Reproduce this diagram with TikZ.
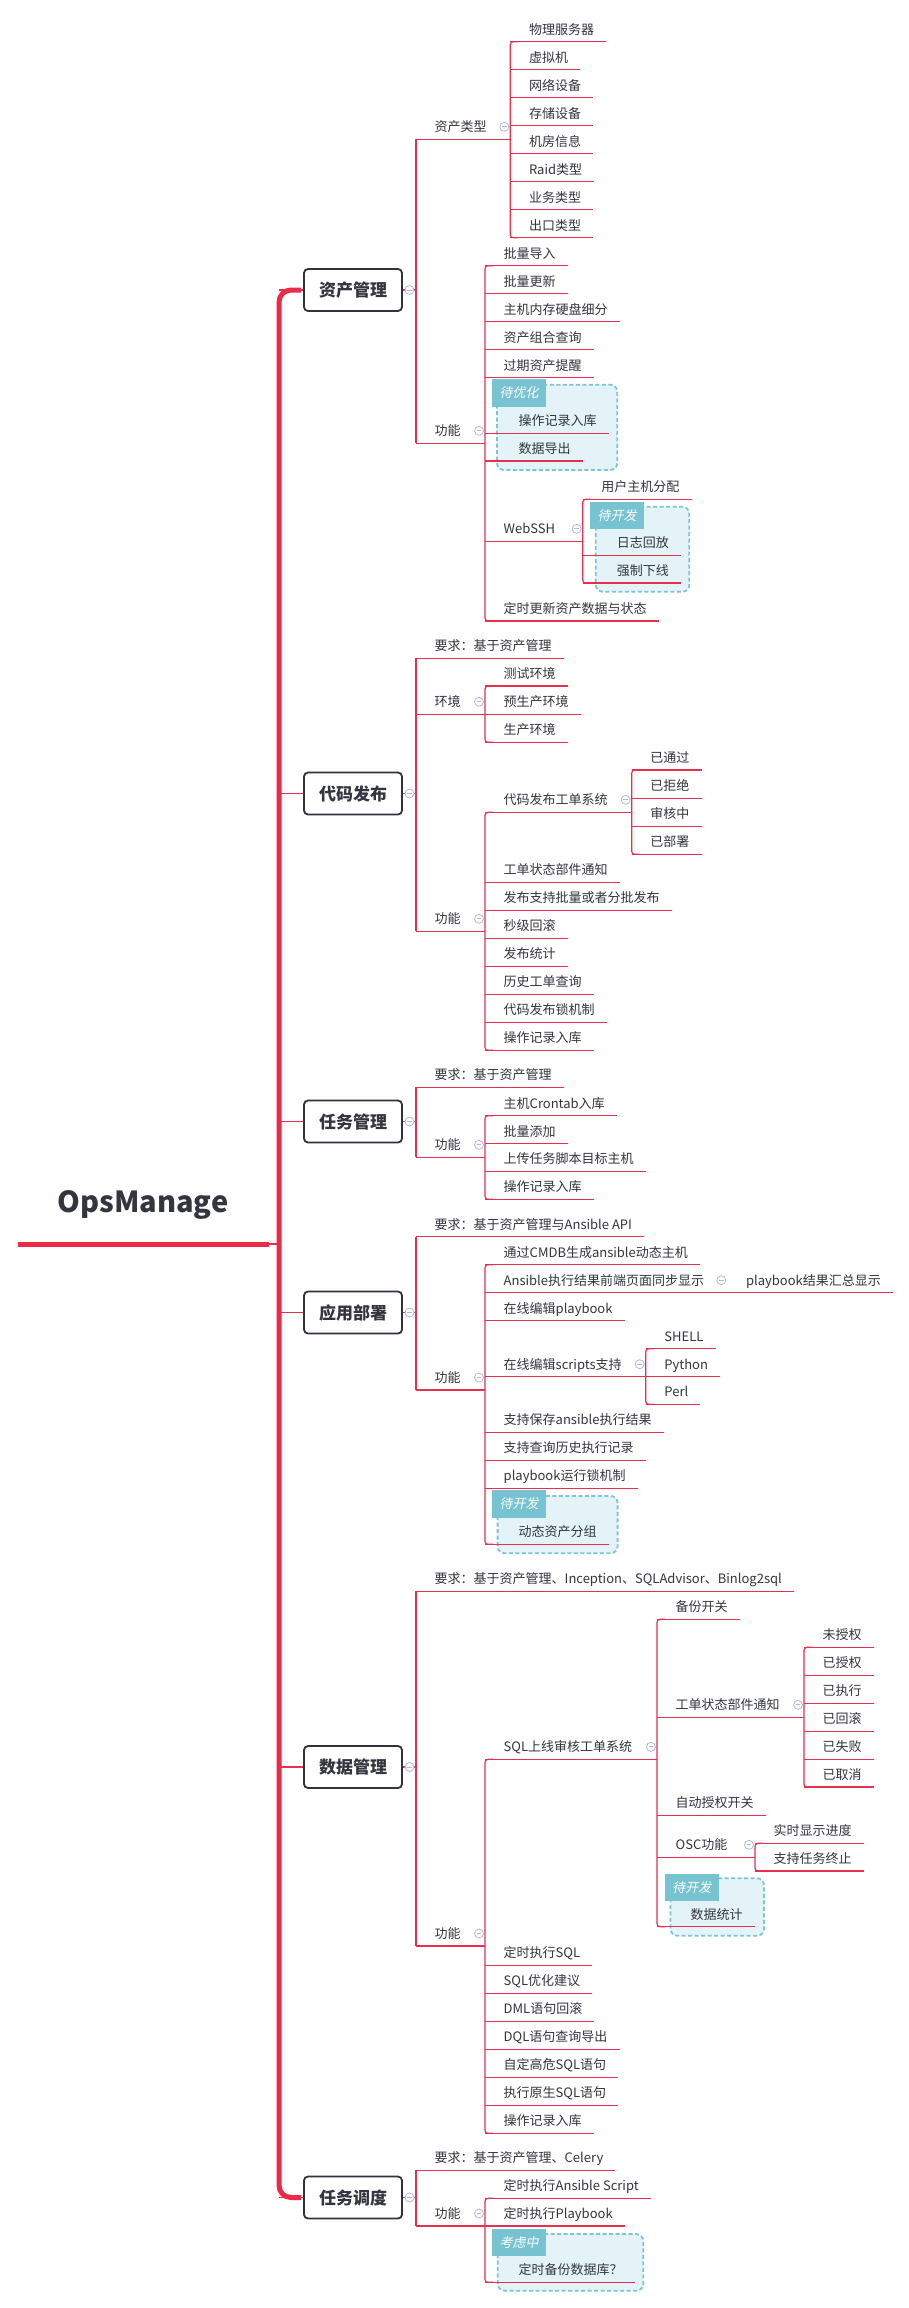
\documentclass[tikz,border=0pt]{standalone}
\usepackage{fontspec}
\setmainfont{Noto Sans CJK SC}
\newfontfamily\tagfont[FakeSlant=0.2]{Noto Sans CJK SC}
\definecolor{lred}{HTML}{E6304D}
\definecolor{tred}{HTML}{EC2A47}
\definecolor{bord}{HTML}{30323F}
\definecolor{txt}{HTML}{33353F}
\definecolor{tagf}{HTML}{78C3D2}
\definecolor{dashc}{HTML}{7BC5D5}
\definecolor{boxf}{HTML}{E3F3F7}
\definecolor{circ}{HTML}{AEBBE0}
\newcommand\fs{\fontsize{13pt}{13pt}\selectfont}
\tikzset{
  ln/.style={draw=lred, line width=1.2pt},
  trunk/.style={draw=tred, line width=5pt},
  topic/.style={anchor=south west, inner xsep=12pt, inner ysep=4.3pt, text height=9pt, text depth=3pt, font=\fs, text=txt},
  mainbox/.style={draw=bord, line width=1.8pt, rounded corners=4pt, minimum width=98pt, minimum height=42pt, font=\bfseries\fontsize{17pt}{17pt}\selectfont, text=txt, inner sep=0pt, fill=white},
  fold/.style={circle, draw=circ, fill=white, line width=0.8pt, minimum size=9pt, inner sep=0pt},
  grp/.style={draw=dashc, fill=boxf, line width=1.8pt, dash pattern=on 4pt off 2.5pt, rounded corners=7pt},
  tagbox/.style={fill=tagf, text=white, font=\tagfont\fontsize{13pt}{13pt}\selectfont, anchor=north west, minimum width=54pt, minimum height=27.5pt, inner sep=0pt}
}
% #1 offset, #2 name, #3 bracket x, #4 underline y, #5 text
\newcommand\leaf[5][18.5]{%
  \node[topic] (#2) at (#3+#1-12,#4) {#5};
  \coordinate (#2-b) at (#3,#4);
  \draw[ln] (#2-b) -- (#2.south east);}
% #1 name, #2 bracket x, #3 underline y, #4 child bracket x, #5 text
\newcommand\ptopic[5]{%
  \node[topic] (#1) at (#2+6.5,#3) {#5};
  \coordinate (#1-b) at (#2,#3);
  \coordinate (#1-c) at (#4,#3);
  \draw[ln] (#1-b) -- (#1-c);
  \node[fold] (#1-f) at (#4-6,#3-12.5) {};
  \draw[circ, line width=0.8pt] ([xshift=-2.3pt]#1-f.center) -- ([xshift=2.3pt]#1-f.center);}
\newcommand\brk[3]{\draw[ln, rounded corners=3pt] (#1+8,#2) -- (#1,#2) -- (#1,#3) -- (#1+8,#3);}
\newcommand\brkq[3]{\draw[ln] (#1,#2) -- (#1,#3);}
\newcommand\grpbox[8]{%
  \draw[grp] (#2,#3) rectangle (#4,#5);
  \node[tagbox] (#1) at (#6,#7) {#8};}
% #1 box name, #2 center y
\newcommand\mainlink[2]{%
  \coordinate (#1-t) at (279,#2);
  \coordinate (#1-r) at (416,#2);
  \draw[ln] (#1-t) -- (#1.west);
  \draw[ln] (#1.east) -- (#1-r);
  \node[fold] (#1-f) at (409.5,#2) {};
  \draw[circ, line width=0.8pt] ([xshift=-2.3pt]#1-f.center) -- ([xshift=2.3pt]#1-f.center);}
\begin{document}
\begin{tikzpicture}[x=1pt,y=-1pt]
\useasboundingbox (0,0) rectangle (908,2308);
\fill[white] (0,0) rectangle (908,2308);

% ---------- boundary groups ----------
\grpbox{g1}{497}{384.7}{617.3}{470}{492}{379}{待优化}
\grpbox{g2}{595.7}{506.7}{689.3}{591.7}{590}{501.3}{待开发}
\grpbox{g3}{497.6}{1496}{617.6}{1553.3}{492}{1490}{待开发}
\grpbox{g4}{670.5}{1878.3}{764}{1935.7}{664.6}{1873.3}{待开发}
\grpbox{g5}{497.7}{2234}{643.3}{2290.7}{492}{2228.3}{考虑中}

% ---------- root and trunk ----------
\node[font=\bfseries\fontsize{29pt}{29pt}\selectfont, text=txt] (root) at (143,1205) {OpsManage};
\coordinate (rootL) at (18,1244);
\coordinate (rootR) at (269,1244);
\coordinate (trunkM) at (279,1244);
\draw[trunk] (rootL) -- (rootR);
\draw[ln] (rootR) -- (trunkM);
\draw[trunk, rounded corners=12pt] (301,290) -- (279,290) -- (279,2197.5) -- (301,2197.5);

% ---------- main topics ----------
\node[mainbox] (m1) at (353,290) {资产管理};
\node[mainbox] (m2) at (353,793.5) {代码发布};
\node[mainbox] (m3) at (353,1121.5) {任务管理};
\node[mainbox] (m4) at (353,1312.5) {应用部署};
\node[mainbox] (m5) at (353,1767) {数据管理};
\node[mainbox] (m6) at (353,2197.5) {任务调度};
\mainlink{m1}{290}
\mainlink{m2}{793.5}
\mainlink{m3}{1121.5}
\mainlink{m4}{1312.5}
\mainlink{m5}{1767}
\mainlink{m6}{2197.5}

% ---------- 资产管理 ----------
\brkq{416}{139.3}{443.3}
\ptopic{a1}{416}{139.3}{510.3}{资产类型}
\brk{510.3}{41.7}{237.7}
\leaf{a11}{510.3}{41.7}{物理服务器}
\leaf{a12}{510.3}{69.7}{虚拟机}
\leaf{a13}{510.3}{97.7}{网络设备}
\leaf{a14}{510.3}{125.7}{存储设备}
\leaf{a15}{510.3}{153.7}{机房信息}
\leaf{a16}{510.3}{181.7}{Raid类型}
\leaf{a17}{510.3}{209.7}{业务类型}
\leaf{a18}{510.3}{237.7}{出口类型}
\ptopic{a2}{416}{443.3}{485}{功能}
\brk{485}{265.7}{621}
\leaf{a21}{485}{265.7}{批量导入}
\leaf{a22}{485}{293.7}{批量更新}
\leaf{a23}{485}{321.7}{主机内存硬盘细分}
\leaf{a24}{485}{349.7}{资产组合查询}
\leaf{a25}{485}{377.7}{过期资产提醒}
\leaf[33.5]{a26}{485}{433.3}{操作记录入库}
\leaf[33.5]{a27}{485}{461}{数据导出}
\ptopic{a28}{485}{541.3}{582.7}{WebSSH}
\brk{582.7}{499.3}{583}
\leaf{a281}{582.7}{499.3}{用户主机分配}
\leaf[34]{a282}{582.7}{555.3}{日志回放}
\leaf[34]{a283}{582.7}{583}{强制下线}
\leaf{a29}{485}{621}{定时更新资产数据与状态}

% ---------- 代码发布 ----------
\brkq{416}{658.3}{931.3}
\leaf{b1}{416}{658.3}{要求：基于资产管理}
\ptopic{b2}{416}{714.3}{485}{环境}
\brk{485}{686}{742.3}
\leaf{b21}{485}{686}{测试环境}
\leaf{b22}{485}{714.3}{预生产环境}
\leaf{b23}{485}{742.3}{生产环境}
\ptopic{b3}{416}{931.3}{485}{功能}
\brk{485}{812.3}{1050.3}
\ptopic{b31}{485}{812.3}{631.7}{代码发布工单系统}
\brk{631.7}{770}{854.3}
\leaf{b311}{631.7}{770}{已通过}
\leaf{b312}{631.7}{798.3}{已拒绝}
\leaf{b313}{631.7}{826.3}{审核中}
\leaf{b314}{631.7}{854.3}{已部署}
\leaf{b32}{485}{882.3}{工单状态部件通知}
\leaf{b33}{485}{910.3}{发布支持批量或者分批发布}
\leaf{b34}{485}{938.3}{秒级回滚}
\leaf{b35}{485}{966.3}{发布统计}
\leaf{b36}{485}{994.3}{历史工单查询}
\leaf{b37}{485}{1022.3}{代码发布锁机制}
\leaf{b38}{485}{1050.3}{操作记录入库}

% ---------- 任务管理 ----------
\brkq{416}{1087.3}{1157.3}
\leaf{c1}{416}{1087.3}{要求：基于资产管理}
\ptopic{c2}{416}{1157.3}{485}{功能}
\brk{485}{1115.7}{1199.3}
\leaf{c21}{485}{1115.7}{主机Crontab入库}
\leaf{c22}{485}{1143.7}{批量添加}
\leaf{c23}{485}{1171.3}{上传任务脚本目标主机}
\leaf{c24}{485}{1199.3}{操作记录入库}

% ---------- 应用部署 ----------
\brkq{416}{1236.7}{1390}
\leaf{d1}{416}{1236.7}{要求：基于资产管理与Ansible API}
\ptopic{d2}{416}{1390}{485}{功能}
\brk{485}{1264.7}{1544.3}
\leaf{d21}{485}{1264.7}{通过CMDB生成ansible动态主机}
\ptopic{d22}{485}{1292.7}{727.3}{Ansible执行结果前端页面同步显示}
\leaf{d221}{727.3}{1292.7}{playbook结果汇总显示}
\leaf{d23}{485}{1320.7}{在线编辑playbook}
\ptopic{d24}{485}{1376.7}{645.7}{在线编辑scripts支持}
\brk{645.7}{1348.7}{1404.3}
\leaf{d241}{645.7}{1348.7}{SHELL}
\leaf{d242}{645.7}{1376.7}{Python}
\leaf{d243}{645.7}{1404.3}{Perl}
\leaf{d25}{485}{1432.3}{支持保存ansible执行结果}
\leaf{d26}{485}{1460.3}{支持查询历史执行记录}
\leaf{d27}{485}{1488.3}{playbook运行锁机制}
\leaf[33.5]{d28}{485}{1544.3}{动态资产分组}

% ---------- 数据管理 ----------
\brkq{416}{1591.3}{1946}
\leaf{e1}{416}{1591.3}{要求：基于资产管理、Inception、SQLAdvisor、Binlog2sql}
\ptopic{e2}{416}{1946}{485}{功能}
\brk{485}{1759.3}{2133.3}
\ptopic{e21}{485}{1759.3}{657}{SQL上线审核工单系统}
\brk{657}{1619.3}{1926.7}
\leaf{e211}{657}{1619.3}{备份开关}
\ptopic{e212}{657}{1717.3}{804}{工单状态部件通知}
\brk{804}{1647.3}{1787}
\leaf{e2121}{804}{1647.3}{未授权}
\leaf{e2122}{804}{1675.3}{已授权}
\leaf{e2123}{804}{1703.3}{已执行}
\leaf{e2124}{804}{1731.3}{已回滚}
\leaf{e2125}{804}{1759.3}{已失败}
\leaf{e2126}{804}{1787}{已取消}
\leaf{e213}{657}{1815.3}{自动授权开关}
\ptopic{e214}{657}{1857.3}{755}{OSC功能}
\brk{755}{1843.3}{1871}
\leaf{e2141}{755}{1843.3}{实时显示进度}
\leaf{e2142}{755}{1871}{支持任务终止}
\leaf[33.5]{e215}{657}{1926.7}{数据统计}
\leaf{e22}{485}{1965.3}{定时执行SQL}
\leaf{e23}{485}{1993.3}{SQL优化建议}
\leaf{e24}{485}{2021.3}{DML语句回滚}
\leaf{e25}{485}{2049.3}{DQL语句查询导出}
\leaf{e26}{485}{2077.3}{自定高危SQL语句}
\leaf{e27}{485}{2105.3}{执行原生SQL语句}
\leaf{e28}{485}{2133.3}{操作记录入库}

% ---------- 任务调度 ----------
\brkq{416}{2170.3}{2226}
\leaf{f1}{416}{2170.3}{要求：基于资产管理、Celery}
\ptopic{f2}{416}{2226}{485}{功能}
\brk{485}{2198.3}{2282.3}
\leaf{f21}{485}{2198.3}{定时执行Ansible Script}
\leaf{f22}{485}{2226}{定时执行Playbook}
\leaf[33.5]{f23}{485}{2282.3}{定时备份数据库？}
\end{tikzpicture}
\end{document}
